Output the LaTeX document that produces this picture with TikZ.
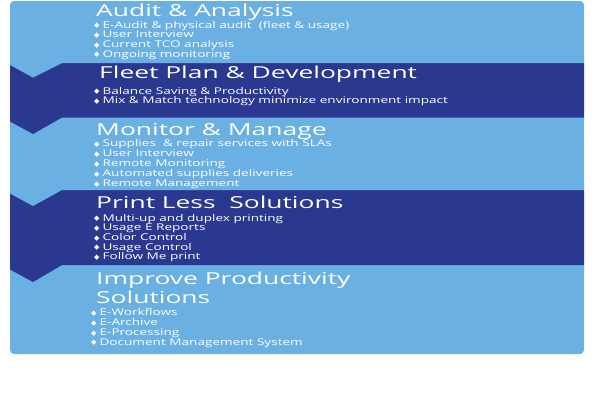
\documentclass[tikz,border=0pt]{standalone}
\usepackage{fontspec}
\setmainfont{Open Sans}
\newfontfamily\titlefont[FakeStretch=1.6]{Open Sans}
\newfontfamily\itemfont[FakeStretch=1.46]{Open Sans}
\newfontfamily\symfont{DejaVu Sans}
\newcommand\bul{{\symfont\fontsize{7}{7}\selectfont\raisebox{0.3pt}{◆}}\hspace{3pt}}
\definecolor{lightband}{RGB}{106,176,226}
\definecolor{darkband}{RGB}{43,56,143}
\tikzset{
  ttl/.style={anchor=base west,inner sep=0pt,text=white,font=\titlefont\fontsize{16.5}{16.5}\selectfont},
  itm/.style={anchor=base west,inner sep=0pt,text=white,font=\itemfont\fontsize{9.3}{9.3}\selectfont},
}
\begin{document}
\begin{tikzpicture}[x=1pt,y=-1pt]
\useasboundingbox (0,0) rectangle (600,400);
\fill[white] (0,0) rectangle (600,400);
% band 5
\fill[lightband,rounded corners=4pt] (10,260) -- (10,354) -- (584,354) -- (584,260) -- cycle;
% band 4 with chevron
\fill[darkband] (10,190) -- (10,269.5) -- (33,282) -- (62,265) -- (584,265) -- (584,190) -- cycle;
% band 3 with chevron
\fill[lightband] (10,117) -- (10,193.5) -- (33,206) -- (62,190) -- (584,190) -- (584,117) -- cycle;
% band 2 with chevron
\fill[darkband] (10,63) -- (10,121.5) -- (33,134) -- (62,117.5) -- (584,117.5) -- (584,63) -- cycle;
% band 1 with chevron
\fill[lightband] (10,40) [rounded corners=4pt] -- (10,1) -- (584,1) [sharp corners] -- (584,63) -- (62,63) -- (33,77.5) -- (10,65) -- cycle;

\node[ttl] (t1) at (96,16) {Audit \& Analysis};
\node[itm] (i11) at (94,28) {\bul E-Audit \& physical audit\ \ (fleet \& usage)};
\node[itm] (i12) at (94,37.7) {\bul User Interview};
\node[itm] (i13) at (94,47.5) {\bul Current TCO analysis};
\node[itm] (i14) at (94,57.2) {\bul Ongoing monitoring};

\node[ttl] (t2) at (99,78) {Fleet Plan \& Development};
\node[itm] (i21) at (94,94) {\bul Balance Saving \& Productivity};
\node[itm] (i22) at (94,103.5) {\bul Mix \& Match technology minimize environment impact};

\node[ttl] (t3) at (96,135) {Monitor \& Manage};
\node[itm] (i31) at (94,146.5) {\bul Supplies\ \ \& repair services with SLAs};
\node[itm] (i32) at (94,156.5) {\bul User Interview};
\node[itm] (i33) at (94,166.5) {\bul Remote Monitoring};
\node[itm] (i34) at (94,176.5) {\bul Automated supplies deliveries};
\node[itm] (i35) at (94,186.5) {\bul Remote Management};

\node[ttl] (t4) at (96,208) {Print Less\ \ Solutions};
\node[itm] (i41) at (94,221) {\bul Multi-up and duplex printing};
\node[itm] (i42) at (94,230.7) {\bul Usage E Reports};
\node[itm] (i43) at (94,240.4) {\bul Color Control};
\node[itm] (i44) at (94,250) {\bul Usage Control};
\node[itm] (i45) at (94,259.7) {\bul Follow Me print};

\node[ttl] (t5) at (96,284) {Improve Productivity};
\node[ttl] (t5b) at (96,303) {Solutions};
\node[itm] (i51) at (91,315.7) {\bul E-Workflows};
\node[itm] (i52) at (91,325.7) {\bul E-Archive};
\node[itm] (i53) at (91,335.3) {\bul E-Processing};
\node[itm] (i54) at (91,345) {\bul Document Management System};
\end{tikzpicture}
\end{document}
